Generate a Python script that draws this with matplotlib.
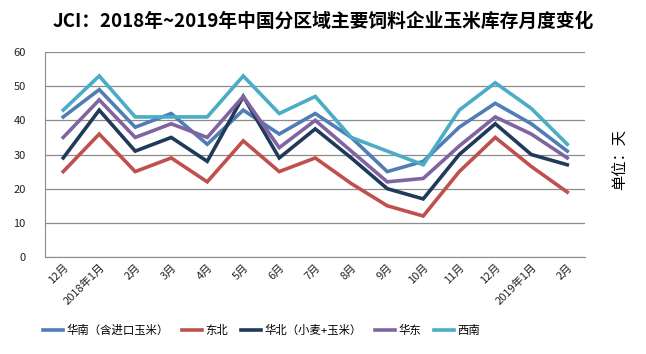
import matplotlib
matplotlib.use("Agg")
import matplotlib.pyplot as plt

plt.rcParams['font.family'] = ['Noto Sans CJK SC', 'DejaVu Sans']

# ---------- data ----------
months = ["12月", "2018年1月", "2月", "3月", "4月", "5月", "6月", "7月",
          "8月", "9月", "10月", "11月", "12月", "2019年1月", "2月"]
huanan = [41, 49, 38, 42, 33, 43, 36, 42, 35, 25, 28, 38, 45, 39, 31]
dongbei = [25, 36, 25, 29, 22, 34, 25, 29, 21.5, 15, 12, 25, 35, 26.5, 19]
huabei = [29, 43, 31, 35, 28, 47, 29, 37.5, 29, 20, 17, 30, 39, 30, 27]
huadong = [35, 46, 35, 39, 35, 47, 32, 40, 31, 22, 23, 32.5, 41, 36, 29]
xinan = [43, 53, 41, 41, 41, 53, 42, 47, 35, 31, 27, 43, 51, 43.5, 33]

series = [
    ("华南（含进口玉米）", huanan, "#4F7DB4"),
    ("东北", dongbei, "#C0504D"),
    ("华北（小麦+玉米）", huabei, "#1F3A5A"),
    ("华东", huadong, "#8064A2"),
    ("西南", xinan, "#4BACC6"),
]

# ---------- plot ----------
fig = plt.figure(figsize=(6.46, 3.54), dpi=100)
ax = fig.add_axes([0.070, 0.274, 0.836, 0.579])

x = list(range(len(months)))
for name, vals, color in series:
    ax.plot(x, vals, color=color, lw=2.6, label=name, solid_joinstyle="miter")

ax.set_xlim(-0.5, len(months) - 0.5)
ax.set_ylim(0, 60)
ax.set_yticks(range(0, 61, 10))
ax.yaxis.grid(True, color="#8c8c8c", lw=0.9)
ax.set_axisbelow(True)
for s in ["top", "right"]:
    ax.spines[s].set_visible(False)
for s in ["left", "bottom"]:
    ax.spines[s].set_color("#8c8c8c")
ax.tick_params(axis="both", length=0, labelsize=8, colors="#222222")
ax.tick_params(axis="y", pad=14)
ax.set_xticks(x)
ax.set_xticklabels(months, rotation=45, ha="right", rotation_mode="anchor", fontsize=8)

fig.text(0.5, 0.94, "JCI：2018年~2019年中国分区域主要饲料企业玉米库存月度变化",
         ha="center", va="center", fontsize=13.5, fontweight="bold")
fig.text(0.96, 0.55, "单位：天", rotation=90, ha="center", va="center", fontsize=11)

fig.legend(loc="center", bbox_to_anchor=(0.405, 0.068), ncol=5, frameon=False,
           fontsize=8.2, handlelength=1.8, handletextpad=0.3, columnspacing=1.1)

fig.savefig("out.png", dpi=100)
